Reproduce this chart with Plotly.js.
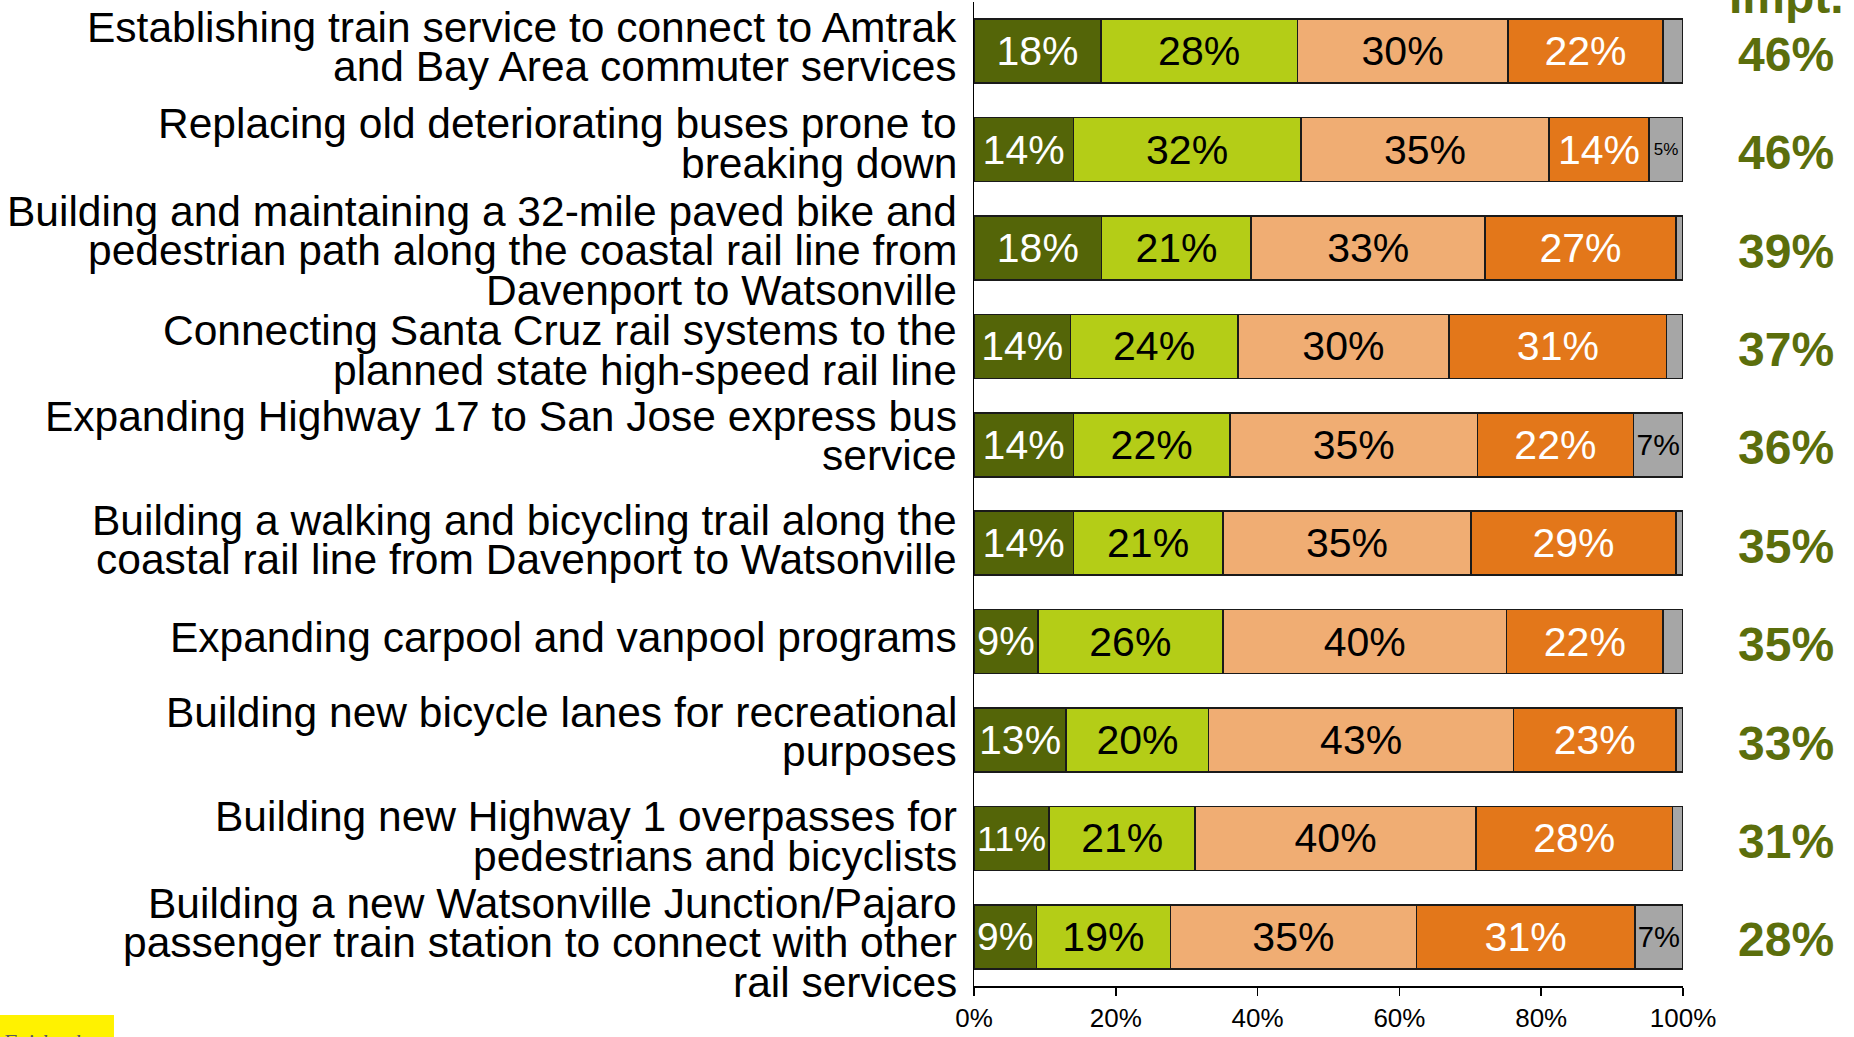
<!DOCTYPE html>
<html>
<head>
<meta charset="utf-8">
<script src="https://cdn.plot.ly/plotly-3.0.1.min.js"></script>
<style>
  html, body { margin: 0; padding: 0; background: #ffffff; }
  #chart { width: 1854px; height: 1037px; }
</style>
</head>
<body>
<div id="chart"></div>
<script>
// ---------------- DATA ----------------
const categories = [
  "Establishing train service to connect to Amtrak<br>and Bay Area commuter services",
  "Replacing old deteriorating buses prone to<br>breaking down",
  "Building and maintaining a 32-mile paved bike and<br>pedestrian path along the coastal rail line from<br>Davenport to Watsonville",
  "Connecting Santa Cruz rail systems to the<br>planned state high-speed rail line",
  "Expanding Highway 17 to San Jose express bus<br>service",
  "Building a walking and bicycling trail along the<br>coastal rail line from Davenport to Watsonville",
  "Expanding carpool and vanpool programs",
  "Building new bicycle lanes for recreational<br>purposes",
  "Building new Highway 1 overpasses for<br>pedestrians and bicyclists",
  "Building a new Watsonville Junction/Pajaro<br>passenger train station to connect with other<br>rail services"
];

const extremelyImportant = [17.9, 14.0, 18.0, 13.6, 14.0, 14.0, 9.0, 13.0, 10.6, 8.8];
const veryImportant      = [27.7, 32.1, 21.1, 23.6, 22.1, 21.1, 26.1, 20.1, 20.6, 18.9];
const somewhatImportant  = [29.7, 35.0, 33.0, 29.8, 34.9, 35.0, 40.0, 43.0, 39.6, 34.7];
const notImportant       = [21.9, 14.1, 26.9, 30.7, 22.0, 28.9, 22.1, 22.9, 27.7, 30.8];
const dontKnow           = [2.8, 4.8, 1.0, 2.3, 7.0, 1.0, 2.8, 1.0, 1.5, 6.8];

const totalImportant = [46, 46, 39, 37, 36, 35, 35, 33, 31, 28];

const xTickValues = [0, 20, 40, 60, 80, 100];
const xTickLabels = ["0%", "20%", "40%", "60%", "80%", "100%"];

const headerLabel = "Impt.";
const sourceLabel = "Fairbank";

// ---------------- STYLE / LAYOUT TWEAKS ----------------
const FONT = "Liberation Sans, Arial, sans-serif";
const colors = {
  ext: "#546508",
  very: "#b4cd17",
  some: "#f0ad73",
  not: "#e3771a",
  dk: "#a6a6a6",
  accent: "#5b6e0c"
};
const barLine = { color: "#1a1a1a", width: 1.5 };
// vertical nudge (px, up) of each category's label block, as in the original text boxes
const labelNudge = [4, 6, -2.5, -4, 9, 3, 4, 8, 2, -6];

function pctText(vals, minShow) {
  return vals.map(v => (v >= minShow ? Math.round(v) + "%" : ""));
}

function seg(name, vals, color, textColor, sizes, minShow) {
  return {
    type: "bar",
    orientation: "h",
    name: name,
    y: categories,
    x: vals,
    marker: { color: color, line: barLine },
    text: pctText(vals, minShow),
    textposition: "inside",
    insidetextanchor: "middle",
    textangle: 0,
    textfont: { family: FONT, size: sizes, color: textColor },
    hoverinfo: "name+x",
    cliponaxis: false
  };
}

const dkSizes = dontKnow.map(v => (v >= 6 ? 30 : 17));

const data = [
  seg("Extremely important", extremelyImportant, colors.ext, "#ffffff", 41, 0),
  seg("Very important", veryImportant, colors.very, "#000000", 41, 0),
  seg("Somewhat important", somewhatImportant, colors.some, "#000000", 41, 0),
  seg("Not too/not at all important", notImportant, colors.not, "#ffffff", 41, 0),
  seg("Don't know", dontKnow, colors.dk, "#000000", dkSizes, 4)
];

// ---------------- ANNOTATIONS ----------------
const annotations = [];
const LINE_GAP = 39.5;
categories.forEach((cat, ci) => {
  const lines = cat.split("<br>");
  const n = lines.length;
  lines.forEach((ln, li) => {
    annotations.push({
      xref: "paper", yref: "y",
      x: 0, y: cat,
      xanchor: "right", yanchor: "middle",
      xshift: -15,
      yshift: ((n - 1) / 2 - li) * LINE_GAP + labelNudge[ci],
      text: ln,
      showarrow: false,
      font: { family: FONT, size: 42.5, color: "#000000" }
    });
  });
  annotations.push({
    xref: "paper", yref: "y",
    x: 1, y: cat,
    xanchor: "center", yanchor: "middle",
    xshift: 103, yshift: -3,
    text: "<b>" + totalImportant[ci] + "%</b>",
    showarrow: false,
    font: { family: FONT, size: 48, color: colors.accent }
  });
});

annotations.push({
  xref: "paper", yref: "paper",
  x: 1, y: 1,
  xanchor: "center", yanchor: "middle",
  xshift: 103, yshift: 6,
  text: "<b>" + headerLabel + "</b>",
  showarrow: false,
  font: { family: FONT, size: 48, color: colors.accent }
});

annotations.push({
  xref: "paper", yref: "paper",
  x: -1.3738, y: -0.0417,
  xanchor: "left", yanchor: "top",
  text: "<i>" + sourceLabel + "</i>",
  showarrow: false,
  font: { family: "Liberation Serif, DejaVu Serif, serif", size: 22, color: "#5a5a5a" }
});

const layout = {
  width: 1854,
  height: 1037,
  barmode: "stack",
  bargap: 0.35,
  showlegend: false,
  paper_bgcolor: "#ffffff",
  plot_bgcolor: "#ffffff",
  margin: { l: 974, r: 171, t: 2, b: 51, autoexpand: false },
  font: { family: FONT, color: "#000000" },
  xaxis: {
    range: [0, 100],
    tickvals: xTickValues,
    ticktext: xTickLabels,
    ticks: "outside",
    ticklen: 8,
    tickwidth: 1.5,
    tickcolor: "#000000",
    showline: true,
    linecolor: "#000000",
    linewidth: 1.5,
    showgrid: false,
    zeroline: false,
    tickfont: { family: FONT, size: 26, color: "#000000" },
    fixedrange: true
  },
  yaxis: {
    type: "category",
    categoryorder: "array",
    categoryarray: categories,
    range: [categories.length - 0.5, -0.5],
    showticklabels: false,
    ticks: "",
    showline: true,
    linecolor: "#000000",
    linewidth: 1.5,
    showgrid: false,
    zeroline: false,
    fixedrange: true
  },
  shapes: [{
    type: "rect",
    xref: "paper", yref: "paper",
    x0: -1.3738, x1: -1.2130,
    y0: -0.052, y1: -0.0295,
    fillcolor: "#fff200",
    line: { width: 0 },
    layer: "below"
  }],
  annotations: annotations
};

Plotly.newPlot("chart", data, layout, { displayModeBar: false, staticPlot: true });
</script>
</body>
</html>
